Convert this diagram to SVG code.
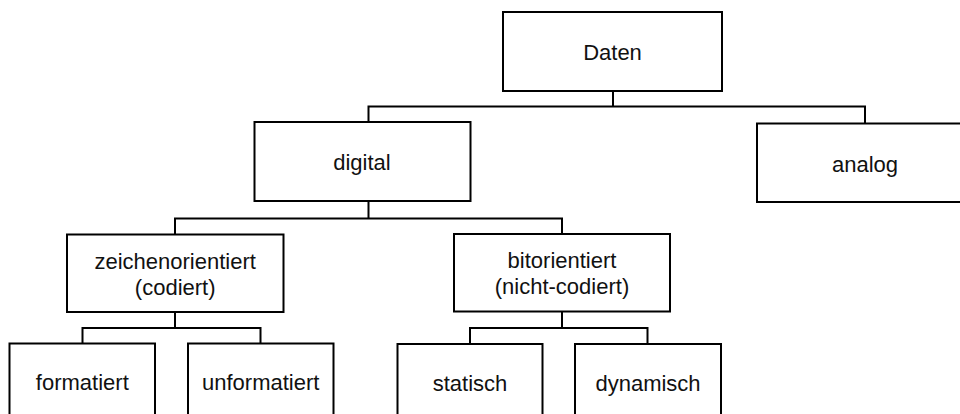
<svg xmlns="http://www.w3.org/2000/svg" width="960" height="414" viewBox="0 0 960 414">
<style>
.box{fill:#fff;stroke:#000;stroke-width:2}
.lbl{font-family:"Liberation Sans",Arial,sans-serif;font-size:22px;fill:#111;text-anchor:middle}
.con{fill:none;stroke:#000;stroke-width:2}
</style>
<rect width="960" height="414" fill="#fff"/>
<g id="connectors">
<path class="con" d="M613,91 V106.5 M368.5,122 V106.5 H865 V123.5"/>
<path class="con" d="M368.5,201 V218.5 H175 V234.5 M368.5,218.5 H562 V234"/>
<path class="con" d="M175,312 V328 H82.5 V343.5 M175,328 H260.5 V343.5"/>
<path class="con" d="M562,311.5 V328 H470 V344 M562,328 H647.5 V344"/>
</g>
<g id="daten"><rect class="box" x="503" y="12" width="219" height="79"/><text class="lbl" x="612.5" y="60">Daten</text></g>
<g id="digital"><rect class="box" x="254.5" y="122" width="216" height="79"/><text class="lbl" x="362" y="170">digital</text></g>
<g id="analog"><rect class="box" x="757" y="123.5" width="216" height="78.5"/><text class="lbl" x="865" y="171.5">analog</text></g>
<g id="zeichenorientiert"><rect class="box" x="67" y="234.5" width="216.5" height="77.5"/><text class="lbl" x="175.2" y="268.5">zeichenorientiert</text><text class="lbl" x="175.2" y="294.5">(codiert)</text></g>
<g id="bitorientiert"><rect class="box" x="454" y="234" width="216" height="77.5"/><text class="lbl" x="562" y="268">bitorientiert</text><text class="lbl" x="562" y="294.3">(nicht-codiert)</text></g>
<g id="formatiert"><rect class="box" x="9.5" y="343.5" width="145.5" height="80"/><text class="lbl" x="82.3" y="390">formatiert</text></g>
<g id="unformatiert"><rect class="box" x="188" y="343.5" width="145.5" height="80"/><text class="lbl" x="260.7" y="390">unformatiert</text></g>
<g id="statisch"><rect class="box" x="397.5" y="344" width="145" height="80"/><text class="lbl" x="470" y="391">statisch</text></g>
<g id="dynamisch"><rect class="box" x="575" y="344" width="146" height="80"/><text class="lbl" x="648" y="391">dynamisch</text></g>
</svg>
